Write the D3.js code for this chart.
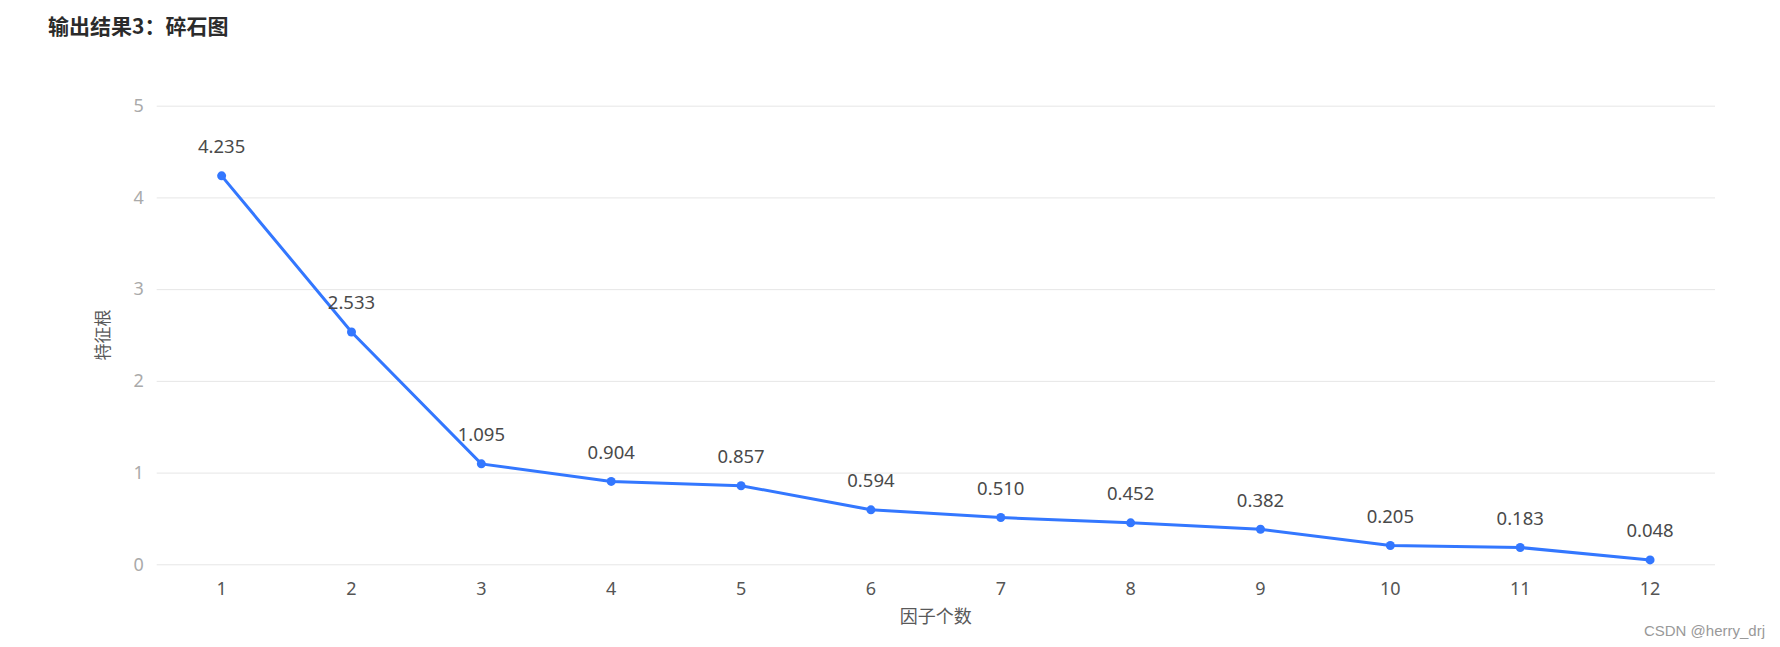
<!DOCTYPE html>
<html>
<head>
<meta charset="utf-8">
<script src="https://cdn.jsdelivr.net/npm/d3@7"></script>
<style>
  body { margin: 0; background: #fff; }
  svg { display: block; font-family: "Noto Sans CJK SC", "Noto Sans", sans-serif; }
</style>
</head>
<body>
<svg id="chart" width="1780" height="647"></svg>
<script>
// data
var factors = ["1", "2", "3", "4", "5", "6", "7", "8", "9", "10", "11", "12"];
var eigenvalues = [4.235, 2.533, 1.095, 0.904, 0.857, 0.594, 0.510, 0.452, 0.382, 0.205, 0.183, 0.048];
var yTicks = [0, 1, 2, 3, 4, 5];

var margin = {left: 156.7, right: 65, top: 105.7, bottom: 82.7};
var width = 1780 - margin.left - margin.right;
var height = 647 - margin.top - margin.bottom;

var svg = d3.select("#chart");

svg.append("text")
	.attr("x", 48)
	.attr("y", 25)
	.attr("dominant-baseline", "central")
	.style("font-size", "21px")
	.style("font-weight", "bold")
	.style("fill", "#2b2b2b")
	.text("输出结果3：碎石图");

var g = svg.append("g")
	.attr("transform", "translate(" + margin.left + "," + margin.top + ")");

var x = d3.scaleBand()
	.domain(factors)
	.range([0, width]);

var y = d3.scaleLinear()
	.domain([0, 5])
	.range([height, 0]);

// grid lines + y tick labels
var yAxis = g.append("g")
	.call(d3.axisLeft(y).tickValues(yTicks).tickSize(-width).tickPadding(13).tickFormat(d3.format("d")));
yAxis.select(".domain").remove();
yAxis.selectAll("line").attr("stroke", "#e6e6e6");
yAxis.selectAll("text")
	.style("font-size", "18px")
	.style("font-family", "'Noto Sans', sans-serif")
	.style("fill", "#aaaaaa");

// x tick labels
var xAxis = g.append("g")
	.attr("transform", "translate(0," + height + ")")
	.call(d3.axisBottom(x).tickSize(0).tickPadding(18));
xAxis.select(".domain").remove();
xAxis.selectAll("text")
	.style("font-size", "18px")
	.style("font-family", "'Noto Sans', sans-serif")
	.style("fill", "#555555");

// axis titles
g.append("text")
	.attr("x", width / 2)
	.attr("y", height + 51)
	.attr("text-anchor", "middle")
	.attr("dominant-baseline", "central")
	.style("font-size", "18px")
	.style("fill", "#595959")
	.text("因子个数");

g.append("text")
	.attr("transform", "translate(" + (101.7 - margin.left) + "," + (335 - margin.top) + ") rotate(-90)")
	.attr("text-anchor", "middle")
	.attr("dominant-baseline", "central")
	.style("font-size", "17px")
	.style("fill", "#595959")
	.text("特征根");

var cx = function(d, i) { return x(factors[i]) + x.bandwidth() / 2; };

var line = d3.line()
	.x(function(d, i) { return cx(d, i); })
	.y(function(d) { return y(d); });

g.append("path")
	.datum(eigenvalues)
	.attr("d", line)
	.attr("fill", "none")
	.attr("stroke", "#3377ff")
	.attr("stroke-width", 3);

g.append("g").selectAll("circle")
	.data(eigenvalues)
	.enter().append("circle")
	.attr("cx", cx)
	.attr("cy", function(d) { return y(d); })
	.attr("r", 4.5)
	.attr("fill", "#3377ff");

g.append("g").selectAll("text")
	.data(eigenvalues)
	.enter().append("text")
	.attr("x", cx)
	.attr("y", function(d) { return y(d) - 30; })
	.attr("text-anchor", "middle")
	.attr("dominant-baseline", "central")
	.style("font-size", "18.5px")
	.style("font-family", "'Noto Sans', sans-serif")
	.style("fill", "#4a4a4a")
	.text(function(d) { return d3.format(".3f")(d); });

svg.append("text")
	.attr("x", 1765)
	.attr("y", 630)
	.attr("text-anchor", "end")
	.attr("dominant-baseline", "central")
	.style("font-size", "15px")
	.style("font-family", "'Liberation Sans', sans-serif")
	.style("fill", "#999999")
	.text("CSDN @herry_drj");
</script>
</body>
</html>
